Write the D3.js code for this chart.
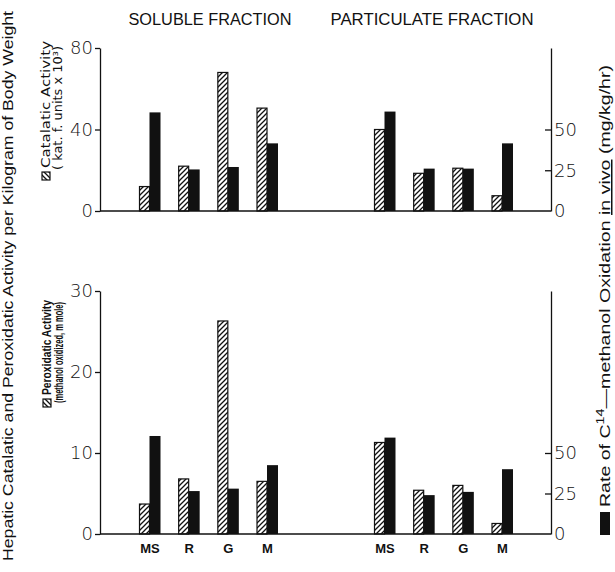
<!DOCTYPE html>
<html>
<head>
<meta charset="utf-8">
<script src="https://cdn.jsdelivr.net/npm/d3@7"></script>
<style>
  body { margin: 0; background: #fff; }
  text { fill: #111; }
</style>
</head>
<body>
<script>
// groups and fractions
const categories = ["MS", "R", "G", "M"];
const fractions = ["SOLUBLE FRACTION", "PARTICULATE FRACTION"];

// top panel: catalatic activity (kat. f. units x 10^3), hatched
const catalaticSoluble = [12, 22, 68, 50.5];
const catalaticParticulate = [40, 18.5, 21, 7.5];
// top panel: C14-methanol oxidation in vivo (mg/kg/hr), black
const oxidationTopSoluble = [60.5, 25.5, 27, 41.5];
const oxidationTopParticulate = [61, 26, 26, 41.5];

// bottom panel: peroxidatic activity (methanol oxidized, m mole), hatched
const peroxidaticSoluble = [3.7, 6.8, 26.3, 6.5];
const peroxidaticParticulate = [11.3, 5.4, 6.0, 1.3];
// bottom panel: oxidation in vivo, black
const oxidationBottomSoluble = [60.5, 26.5, 28, 42.5];
const oxidationBottomParticulate = [59.5, 24, 26, 40];

// tick labels
const catalaticTicks = [0, 40, 80];
const peroxidaticTicks = [0, 10, 20, 30];
const oxidationTicks = [0, 25, 50];

function main(){
    const width = 615;
    const height = 572;

    const svg = d3.select("body").append("svg")
        .attr("width", width)
        .attr("height", height);

    // diagonal hatch
    svg.append("defs").append("pattern")
        .attr("id", "hatch")
        .attr("patternUnits", "userSpaceOnUse")
        .attr("width", 5).attr("height", 5)
        .append("path")
        .attr("d", "M-1,1 L1,-1 M0,5 L5,0 M4,6 L6,4")
        .attr("stroke", "#111")
        .attr("stroke-width", 1.3);

    // slot positions: soluble 0..3, particulate 6..9
    const x = d3.scaleLinear().domain([0, 9]).range([149.5, 502]);
    const axisLeftX = 100, axisRightX = 551;
    const hatchW = 10, blackW = 11;

    const panels = [
        {
            yLeft: d3.scaleLinear().domain([0, 80]).range([211, 48]),
            yRight: d3.scaleLinear().domain([0, 100]).range([211, 48]),
            leftTicks: catalaticTicks,
            hatched: [catalaticSoluble, catalaticParticulate],
            black: [oxidationTopSoluble, oxidationTopParticulate],
            labels: false
        },
        {
            yLeft: d3.scaleLinear().domain([0, 30]).range([534, 291]),
            yRight: d3.scaleLinear().domain([0, 150]).range([534, 291]),
            leftTicks: peroxidaticTicks,
            hatched: [peroxidaticSoluble, peroxidaticParticulate],
            black: [oxidationBottomSoluble, oxidationBottomParticulate],
            labels: true
        }
    ];

    panels.forEach(function(p){
        const g = svg.append("g");
        const rows = [];
        p.hatched.forEach(function(vals, f){
            vals.forEach(function(v, i){
                rows.push({slot: i + f * 6, cat: categories[i], hatched: v, black: p.black[f][i]});
            });
        });

        // left axis
        const la = g.append("g")
            .attr("transform", `translate(${axisLeftX},0)`)
            .call(d3.axisLeft(p.yLeft).tickValues(p.leftTicks).tickSize(5).tickSizeOuter(0).tickPadding(2));
        // right axis, ticks inward
        const ra = g.append("g")
            .attr("transform", `translate(${axisRightX},0)`)
            .call(d3.axisRight(p.yRight).tickValues(oxidationTicks).tickSize(-6).tickSizeOuter(0).tickPadding(3));
        [la, ra].forEach(function(a){
            a.selectAll("path,line").attr("stroke", "#111").attr("stroke-width", 1.3);
            a.selectAll("text")
                .attr("font-family", "DejaVu Sans")
                .attr("font-weight", 300)
                .attr("font-size", 18)
                .attr("fill", "#111");
        });
        ra.select(".tick line").filter(d => d === 0).remove();

        // baseline
        g.append("line")
            .attr("x1", axisLeftX).attr("x2", axisRightX)
            .attr("y1", p.yLeft(0)).attr("y2", p.yLeft(0))
            .attr("stroke", "#111").attr("stroke-width", 1.5);

        g.selectAll(".hbar").data(rows).enter().append("rect")
            .attr("class", "hbar")
            .attr("x", d => x(d.slot) - hatchW)
            .attr("y", d => p.yLeft(d.hatched))
            .attr("width", hatchW)
            .attr("height", d => p.yLeft(0) - p.yLeft(d.hatched))
            .attr("fill", "url(#hatch)")
            .attr("stroke", "#111")
            .attr("stroke-width", 1.2);

        g.selectAll(".bbar").data(rows).enter().append("rect")
            .attr("class", "bbar")
            .attr("x", d => x(d.slot))
            .attr("y", d => p.yRight(d.black))
            .attr("width", blackW)
            .attr("height", d => p.yRight(0) - p.yRight(d.black))
            .attr("fill", "#111");

        if(p.labels){
            g.selectAll(".cat").data(rows).enter().append("text")
                .attr("class", "cat")
                .attr("x", d => x(d.slot) + 0.5)
                .attr("y", p.yLeft(0) + 19)
                .attr("text-anchor", "middle")
                .attr("font-family", "Liberation Sans")
                .attr("font-weight", "bold")
                .attr("font-size", 13)
                .text(d => d.cat);
        }
    });

    // fraction titles
    svg.selectAll(".title").data(fractions).enter().append("text")
        .attr("class", "title")
        .attr("x", (d, i) => i === 0 ? 210 : 432)
        .attr("y", 25)
        .attr("text-anchor", "middle")
        .attr("font-family", "Liberation Sans")
        .attr("font-size", 16)
        .attr("textLength", (d, i) => i === 0 ? 163 : 203)
        .attr("lengthAdjust", "spacingAndGlyphs")
        .text(d => d);

    // left axis title
    svg.append("text")
        .attr("transform", "translate(13,561) rotate(-90)")
        .attr("font-family", "Liberation Sans")
        .attr("font-size", 14.5)
        .attr("textLength", 550)
        .attr("lengthAdjust", "spacingAndGlyphs")
        .text("Hepatic Catalatic and Peroxidatic Activity per Kilogram of Body Weight");

    // legends (rotated)
    function legend(cx, yStart, line1, len1, line2, start2, len2, size, family, weight){
        const lg = svg.append("g").attr("transform", `translate(${cx},${yStart}) rotate(-90)`);
        lg.append("rect")
            .attr("x", -12).attr("y", -8)
            .attr("width", 8).attr("height", 8)
            .attr("fill", "url(#hatch)")
            .attr("stroke", "#111").attr("stroke-width", 1.2);
        [[line1, 0, 0, len1], [line2, start2, 11.5, len2]].forEach(function(l){
            lg.append("text")
                .attr("x", l[1]).attr("y", l[2])
                .attr("font-family", family)
                .attr("font-weight", weight)
                .attr("font-size", size)
                .attr("textLength", l[3])
                .attr("lengthAdjust", "spacingAndGlyphs")
                .text(l[0]);
        });
    }
    legend(50, 168, "Catalatic Activity", 127, "( kat. f. units x 10³)", -2, 124, 13, "DejaVu Sans", "normal");
    legend(51, 395, "Peroxidatic Activity", 95, "(methanol oxidized, m mole)", -8, 101, 12.5, "Liberation Sans Narrow, Liberation Sans", "bold");

    // right axis title
    const rg = svg.append("g").attr("transform", "translate(610,507) rotate(-90)");
    rg.append("rect")
        .attr("x", -28).attr("y", -10)
        .attr("width", 23).attr("height", 10)
        .attr("fill", "#111");
    const rt = rg.append("text")
        .attr("x", 0).attr("y", 0)
        .attr("font-family", "Liberation Sans")
        .attr("font-size", 15)
        .attr("textLength", 442)
        .attr("lengthAdjust", "spacingAndGlyphs");
    rt.append("tspan").text("Rate of C");
    rt.append("tspan").attr("dy", -6).attr("font-size", 11).text("14");
    rt.append("tspan").attr("dy", 6).text("—methanol Oxidation ");
    rt.append("tspan").attr("text-decoration", "underline").text("in vivo");
    rt.append("tspan").text(" (mg/kg/hr)");
}
main();
</script>
</body>
</html>
